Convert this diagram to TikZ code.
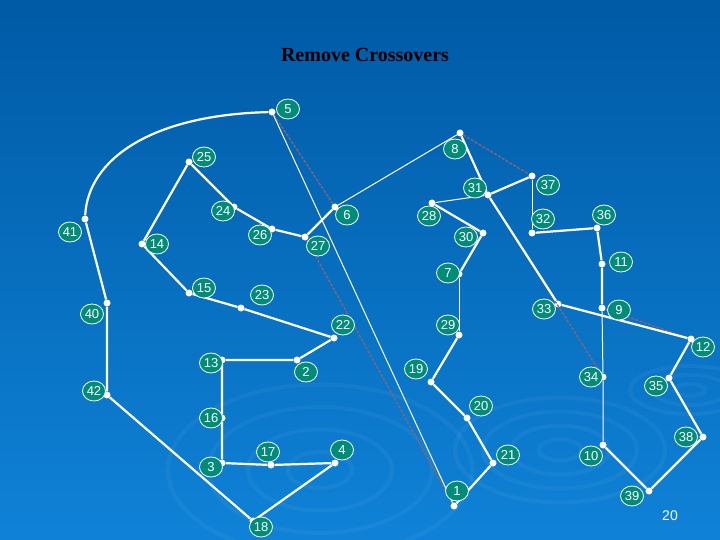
\documentclass[tikz,border=0pt]{standalone}
\usepackage{fontspec}
\setmainfont{Liberation Serif}
\setsansfont{Liberation Sans}
\usetikzlibrary{shapes.geometric}
\definecolor{bgtop}{RGB}{0,90,165}
\definecolor{bgbot}{RGB}{15,130,215}
\definecolor{lblgreen}{RGB}{0,140,120}
\definecolor{dashcol}{RGB}{130,100,125}
\tikzset{
  dot/.style={circle,fill=white,inner sep=0pt,minimum size=7pt},
  lbl/.style={ellipse,draw=white,line width=0.8pt,fill=lblgreen,text=white,inner sep=0pt,minimum width=23pt,minimum height=20pt,font=\sffamily\fontsize{13}{13}\selectfont},
  thick edge/.style={white,line width=2.2pt},
  thin edge/.style={white,line width=1pt},
  cross/.style={dashcol,line width=1.4pt,dash pattern=on 3pt off 1.5pt},
}
\begin{document}
\begin{tikzpicture}[x=1pt,y=-1pt]
\shade[top color=bgtop,bottom color=bgbot] (0,0) rectangle (720,540);
\useasboundingbox (0,0) rectangle (720,540);
\begin{scope}[draw=white,opacity=0.045,line width=4pt]
\foreach \r in {20,45,70,95} \draw (320,470) ellipse ({\r*1.6} and \r*0.9);
\foreach \r in {15,35,55,75} \draw (560,450) ellipse ({\r*1.4} and \r*0.7);
\foreach \r in {10,25,40} \draw (690,390) ellipse ({\r*1.5} and \r*0.6);
\end{scope}
\node[font=\bfseries\fontsize{20}{20}\selectfont] (title) at (365,55) {Remove Crossovers};
\node[white,font=\sffamily\fontsize{14}{14}\selectfont] (page) at (670,516) {20};
\foreach \n/\x/\y/\lx/\ly in {
5/272/112/288/109, 25/189/162/204/157, 8/460/133/455/149, 37/532/176/548/185,
31/488/195/475/188, 28/432/203/429/216, 30/483/233/466/237, 32/532/233/543/219,
36/597/228/604/215, 24/234/207/223/211, 41/85/219/70/232, 6/335/207/347/215,
26/272/229/260/235, 14/142/244/157/244, 27/305/237/318/246, 7/459/274/448/273,
11/602/264/621/262, 15/189/293/204/288, 23/241/308/262/295, 40/107/303/92/314,
33/558/304/544/309, 9/602/308/619/310, 22/334/338/343/325, 29/459/335/448/325,
12/691/339/703/347, 13/222/360/211/363, 2/297/360/306/372, 19/431/382/416/369,
34/603/377/591/377, 35/669/378/656/386, 42/107/395/94/391, 20/467/418/481/406,
16/222/418/211/418, 38/703/437/686/437, 17/271/465/268/452, 4/335/463/342/450,
3/222/463/211/467, 21/493/463/508/455, 10/603/445/591/456, 1/454/506/457/491,
39/649/491/632/496, 18/253/521/261/527}{
  \node[dot] (n\n) at (\x,\y) {};
  \coordinate (p\n) at (\lx,\ly);
}
% crossover (dashed) edges
\draw[cross] (n5) -- (n6);
\draw[cross] (n27) -- (n1);
\draw[cross] (n8) -- (n37);
\draw[cross] (n31) -- (n34);
\draw[cross] (n9) -- (n12);
% tour
\draw[thick edge] (n5) .. controls (150,115) and (88,160) .. (n41);
\draw[thick edge] (n41) -- (n40) -- (n42) -- (n18) -- (n4) -- (n17) -- (n3) -- (n16) -- (n13) -- (n2) -- (n22) -- (n23) -- (n15) -- (n14) -- (n25) -- (n24) -- (n26) -- (n27) -- (n6);
\draw[thin edge] (n6) -- (n8);
\draw[thick edge] (n8) -- (n31) -- (n33) -- (n12) -- (n35) -- (n38) -- (n39) -- (n10);
\draw[thin edge] (n10) -- (n34) -- (n9);
\draw[thick edge] (n9) -- (n11) -- (n36) -- (n32);
\draw[thin edge] (n32) -- (n37);
\draw[thick edge] (n37) -- (n31);
\draw[thin edge] (n31) -- (n28);
\draw[thick edge] (n28) -- (n30) -- (n7);
\draw[thin edge] (n7) -- (n29);
\draw[thick edge] (n29) -- (n19) -- (n20) -- (n21) -- (n1);
\draw[thin edge] (n1) -- (n5);
\foreach \n in {1,...,42} \node[lbl] (l\n) at (p\n) {\n};
\end{tikzpicture}
\end{document}
